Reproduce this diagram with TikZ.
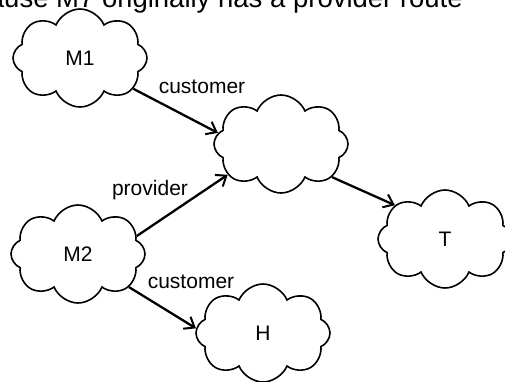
\documentclass[tikz,border=0pt]{standalone}
\usepackage{fontspec}
\setmainfont{Liberation Sans}
\usetikzlibrary{shapes.symbols,arrows.meta}
\begin{document}
\begin{tikzpicture}[x=1pt,y=-1pt,
  cloudnode/.style={draw=black, line width=1.6pt, shape=cloud, cloud puffs=8, cloud puff arc=135, aspect=1.35, minimum width=134pt, minimum height=98pt, inner sep=0pt, font=\fontsize{21}{24}\selectfont},
  link/.style={line width=2.3pt, -{Straight Barb[length=9pt,width=14pt,line width=2pt]}},
  lbl/.style={font=\fontsize{21}{24}\selectfont, inner sep=0pt}]
\useasboundingbox (0,0) rectangle (505,381);
\clip (0,0) rectangle (505,381);
\node[font=\fontsize{27.5}{31}\selectfont, anchor=base east, inner sep=0pt] (title) at (463,7.5) {Because M7 originally has a provider route};
\node[cloudnode] (m1) at (80,58) {M1};
\node[cloudnode] (mid) at (281,144) {};
\node[cloudnode] (m2) at (78,254) {M2};
\node[cloudnode] (t) at (445,239) {T};
\node[cloudnode] (h) at (263,333) {H};
\draw[link] (m1.330) -- (mid.170);
\draw[link] (m2.17) -- (mid.210);
\draw[link] (mid.327) -- (t.146);
\draw[link] (m2.327) -- (h.176);
\node[lbl] (l1) at (202,87) {customer};
\node[lbl] (l2) at (150,190) {provider};
\node[lbl] (l3) at (191,282) {customer};
\end{tikzpicture}
\end{document}
